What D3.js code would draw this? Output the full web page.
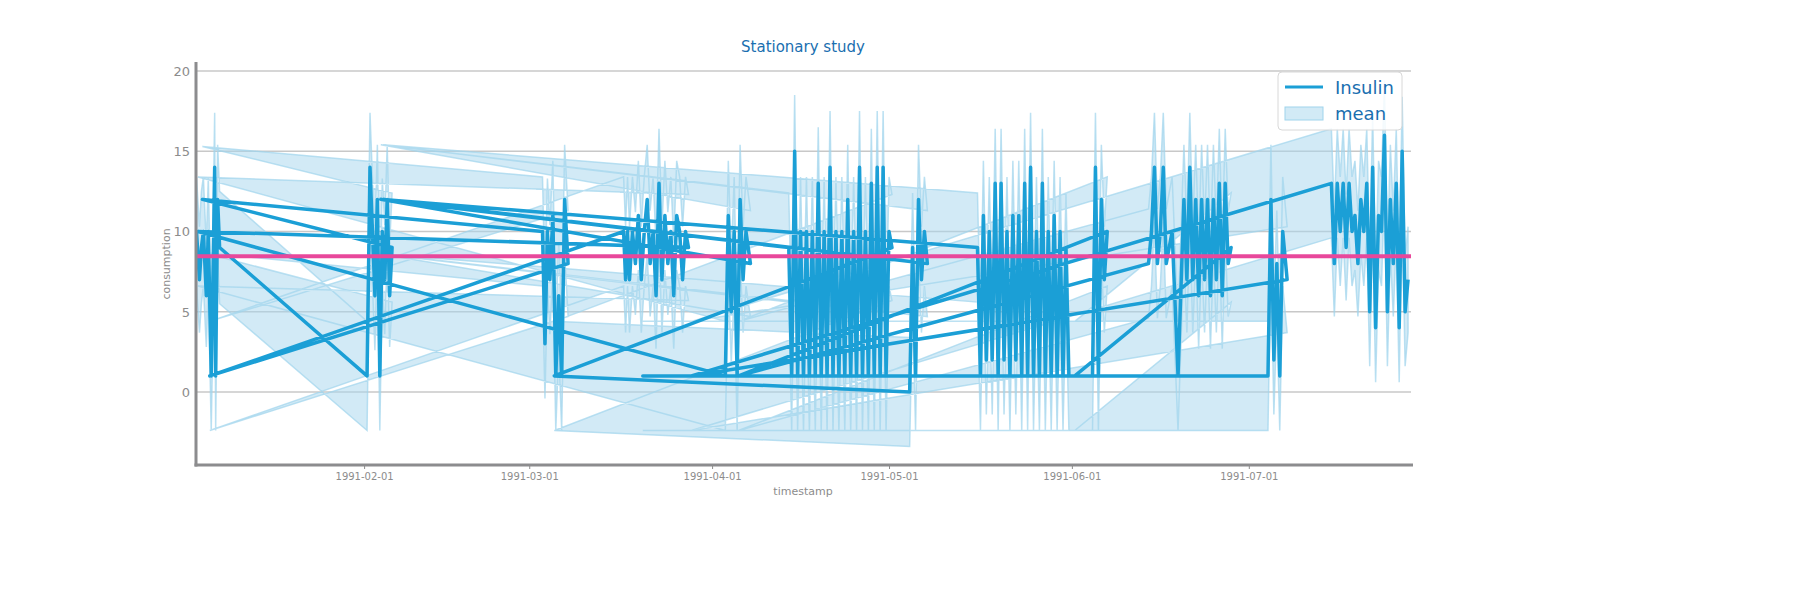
<!DOCTYPE html>
<html><head><meta charset="utf-8">
<script src="https://cdn.jsdelivr.net/npm/d3@7"></script>
<style>body{margin:0;background:#fff;font-family:"DejaVu Sans",sans-serif}</style>
</head><body><svg id="c" width="1800" height="600"></svg>
<script>
// timestamps (1991, "MM-DD HH") in recorded order
const stamps = [
"01-03 14","01-04 02","01-04 10","01-04 18","01-05 06","01-05 14","01-06 02","01-06 10","01-06 16","01-06 20","01-07 04","01-07 12",
"02-01 12","02-02 00","02-02 10","02-02 20","02-03 06","02-03 16","02-04 02","02-04 12","02-04 22","02-05 08","02-05 18",
"01-04 14",
"03-03 06","03-03 16","03-04 02","03-04 12","03-05 00","03-05 12","03-06 00","03-06 12","03-07 00","03-07 14",
"01-05 20",
"03-17 00","03-17 08","03-17 16","03-18 00","03-18 12","03-19 00","03-19 12","03-20 00","03-20 12","03-21 00","03-21 12","03-22 00","03-22 12","03-23 00","03-23 12","03-24 00","03-24 12","03-25 00","03-25 12","03-26 00","03-26 12","03-27 00","03-27 12","03-28 00",
"01-03 20",
"04-03 06","04-03 18","04-04 06","04-04 18","04-05 06","04-05 18","04-06 06","04-06 18","04-07 12",
"02-03 20",
"04-14 00","04-14 12","04-15 00","04-15 12","04-16 00","04-16 12","04-17 00","04-17 12","04-18 00","04-18 12","04-19 00","04-19 12","04-20 00","04-20 12","04-21 00","04-21 12","04-22 00","04-22 12","04-23 00","04-23 12","04-24 00","04-24 12","04-25 00","04-25 12","04-26 00","04-26 12","04-27 00","04-27 12","04-28 00","04-28 12","04-29 00","04-29 12","04-30 00","04-30 12","05-01 00","05-01 12",
"03-05 06",
"05-04 12","05-05 00","05-05 12","05-06 00","05-06 12","05-07 00","05-07 12",
"02-04 06",
"05-16 00","05-16 12","05-17 00","05-17 12","05-18 00","05-18 12","05-19 00","05-19 12","05-20 00","05-20 12","05-21 00","05-21 12","05-22 00","05-22 12","05-23 00","05-23 12","05-24 00","05-24 12","05-25 00","05-25 12","05-26 00","05-26 12","05-27 00","05-27 12","05-28 00","05-28 12","05-29 00","05-29 12","05-30 00","05-30 12","05-31 00","05-31 12",
"03-20 06",
"06-04 12","06-05 00","06-05 12","06-06 00","06-06 12","06-07 00",
"04-05 12",
"06-14 00","06-14 12","06-15 00","06-15 12","06-16 00","06-16 12","06-17 00","06-18 00","06-19 00","06-20 00","06-20 12","06-21 00","06-21 12","06-22 00","06-22 12","06-23 00","06-23 12","06-24 00","06-24 12","06-25 00","06-25 12","06-26 00","06-26 12","06-27 00","06-27 12","06-28 00",
"06-01 12",
"07-04 06","07-04 18","07-05 06","07-05 18","07-06 06","07-06 18","07-07 12",
"03-28 12",
"07-15 00","07-15 12","07-16 00","07-16 12","07-17 00","07-17 12","07-18 00","07-18 12","07-19 00","07-19 12","07-20 00","07-20 12","07-21 00","07-21 12","07-22 00","07-22 12","07-23 00","07-23 12","07-24 00","07-24 12","07-25 00","07-25 12","07-26 00","07-26 12","07-27 00","07-27 12","07-28 00"
];
const consumption = [
10,7,9,10,6,10,1,8,14,1,12,9,
1,14,10,6,12,1,10,7,12,6,9,
12,
10,3,10,7,11,1,6,1,12,8,
1,
10,7,10,7,10,8,11,7,10,12,8,10,6,13,7,11,8,10,6,11,10,7,10,9,
10,
1,11,5,10,1,12,7,10,8,
12,
9,1,15,1,10,1,10,1,10,1,13,1,10,1,14,1,10,1,10,1,12,1,10,1,14,1,10,1,13,1,14,1,14,1,10,9,
1,
0,9,1,12,7,10,8,
12,
9,1,11,2,10,2,13,1,13,2,10,1,11,2,11,1,13,1,14,1,10,1,13,1,10,1,11,1,10,1,9,1,
1,
1,14,1,12,7,10,
1,
8,10,14,8,10,14,8,10,1,12,7,14,7,12,6,12,7,12,6,12,7,13,6,13,8,9,
1,
1,12,2,8,1,10,7,
1,
13,8,13,10,13,9,13,10,11,8,12,10,13,5,14,4,11,10,16,5,12,8,13,4,15,5,7
];
// half-width of the shaded "mean" band at each point
const spread = [
3.4,3.3,3.5,3.4,3.2,3.4,3.4,3.3,3.4,3.4,3.4,3.5,
3.4,3.4,3.3,3.4,3.4,3.4,3.3,3.4,3.4,3.2,3.4,
3.3,
3.4,3.4,3.3,3.4,3.4,3.4,3.3,3.4,3.4,3.3,
3.4,
3.4,3.3,3.4,3.3,3.4,3.2,3.4,3.3,3.4,3.4,3.3,3.4,3.3,3.4,3.3,3.4,3.2,3.4,3.3,3.4,3.4,3.3,3.4,3.3,
3.4,
3.4,3.4,3.3,3.4,3.4,3.4,3.3,3.4,3.3,
3.4,
3.4,3.4,3.5,3.4,3.4,3.4,3.4,3.4,3.4,3.4,3.5,3.4,3.4,3.4,3.5,3.4,3.4,3.4,3.4,3.4,3.4,3.4,3.4,3.4,3.5,3.4,3.4,3.4,3.4,3.4,3.5,3.4,3.5,3.4,3.4,3.3,
3.4,
3.4,3.4,3.4,3.4,3.3,3.4,3.3,
3.4,
3.4,3.4,3.4,3.4,3.4,3.4,3.4,3.4,3.4,3.4,3.4,3.4,3.4,3.4,3.4,3.4,3.4,3.4,3.4,3.4,3.4,3.4,3.4,3.4,3.4,3.4,3.4,3.4,3.4,3.4,3.4,3.4,
3.4,
3.4,3.4,3.4,3.4,3.3,3.4,
3.4,
3.4,3.4,3.4,3.4,3.4,3.4,3.4,3.4,3.4,3.4,3.3,3.4,3.3,3.4,3.3,3.4,3.3,3.4,3.3,3.4,3.3,3.4,3.3,3.4,3.3,3.4,
3.4,
3.4,3.4,3.4,3.3,3.4,3.4,3.3,
3.4,
3.4,3.3,3.4,3.4,3.4,3.3,3.4,3.4,3.4,3.3,3.4,3.4,3.4,3.4,3.4,3.4,3.4,3.4,3.4,3.4,3.4,3.3,3.4,3.4,3.4,3.4,3.3
];
const meanLevel = 8.45;
const yTicks = [0,5,10,15,20];
const xTickDates = ["1991-02-01","1991-03-01","1991-04-01","1991-05-01","1991-06-01","1991-07-01"];

const parse = d3.timeParse("%Y-%m-%d %H");
const n = Math.min(stamps.length, consumption.length, spread.length);
const data = d3.range(n).map(i => ({t: parse("1991-" + stamps[i]), v: consumption[i], s: spread[i]}));

const svg = d3.select("#c");
const L = 196, R = 1411, T = 62, B = 465;
const x = d3.scaleTime().domain([new Date(1991,0,3,12), new Date(1991,6,28,12)]).range([L, R]);
const y = d3.scaleLinear().domain([-4.55, 20.56]).range([B, T]);

svg.append("text").attr("x", 803).attr("y", 52).attr("text-anchor","middle")
  .attr("fill","#1a6fb0").attr("font-size",15).text("Stationary study");

svg.append("g").selectAll("line").data(yTicks).join("line")
  .attr("x1", L).attr("x2", R).attr("y1", d=>y(d)).attr("y2", d=>y(d))
  .attr("stroke","#c8c8c8").attr("stroke-width",1.5);

svg.append("clipPath").attr("id","cl").append("rect")
  .attr("x",L).attr("y",T).attr("width",R-L).attr("height",B-T);
const g = svg.append("g").attr("clip-path","url(#cl)");

g.append("path").datum(data)
  .attr("d", d3.area().x(d=>x(d.t)).y0(d=>y(d.v-d.s)).y1(d=>y(d.v+d.s)))
  .attr("fill","#a6d6ee").attr("fill-opacity",0.5)
  .attr("stroke","#9fd4ec").attr("stroke-opacity",0.7).attr("stroke-width",1.5);

g.append("path").datum(data)
  .attr("d", d3.line().x(d=>x(d.t)).y(d=>y(d.v)))
  .attr("fill","none").attr("stroke","#1b9fd6").attr("stroke-width",3.5).attr("stroke-linejoin","round");

g.append("line").attr("x1",L).attr("x2",R).attr("y1",y(meanLevel)).attr("y2",y(meanLevel))
  .attr("stroke","#e8489b").attr("stroke-width",4);

svg.append("g").selectAll("text").data(yTicks).join("text")
  .attr("x", 190).attr("y", d=>y(d)+5).attr("text-anchor","end")
  .attr("fill","#8c8c8c").attr("font-size",13).text(d=>d);
const xAxis = d3.axisBottom(x).tickValues(xTickDates.map(d=>d3.timeParse("%Y-%m-%d")(d)))
  .tickFormat(d3.timeFormat("%Y-%m-%d")).tickSize(4).tickPadding(4);
const ax = svg.append("g").attr("transform",`translate(0,${B})`).call(xAxis);
ax.select(".domain").remove();
ax.selectAll("line").attr("stroke","#8c8c8c");
ax.selectAll("text").attr("fill","#8c8c8c").attr("font-size",10).attr("font-family","DejaVu Sans");

svg.append("line").attr("x1",L).attr("x2",L).attr("y1",T).attr("y2",B+1.5).attr("stroke","#8c8c8e").attr("stroke-width",3);
svg.append("line").attr("x1",L-1.5).attr("x2",R+2).attr("y1",B).attr("y2",B).attr("stroke","#8c8c8e").attr("stroke-width",3);

svg.append("text").attr("x",803).attr("y",495).attr("text-anchor","middle").attr("fill","#8c8c8c").attr("font-size",11).text("timestamp");
svg.append("text").attr("transform","translate(170,264) rotate(-90)").attr("text-anchor","middle").attr("fill","#8c8c8c").attr("font-size",11).text("consumption");

const lg = svg.append("g");
lg.append("rect").attr("x",1278).attr("y",72).attr("width",124).attr("height",58).attr("rx",4)
  .attr("fill","#fff").attr("fill-opacity",0.85).attr("stroke","#d8d8d8");
lg.append("line").attr("x1",1285).attr("x2",1323).attr("y1",87).attr("y2",87).attr("stroke","#1b9fd6").attr("stroke-width",3);
lg.append("rect").attr("x",1285).attr("y",107).attr("width",38).attr("height",13)
  .attr("fill","#a6d6ee").attr("fill-opacity",0.5).attr("stroke","#9fd4ec");
lg.append("text").attr("x",1335).attr("y",94).attr("fill","#1a6fb0").attr("font-size",18).text("Insulin");
lg.append("text").attr("x",1335).attr("y",120).attr("fill","#1a6fb0").attr("font-size",18).text("mean");
</script></body></html>
